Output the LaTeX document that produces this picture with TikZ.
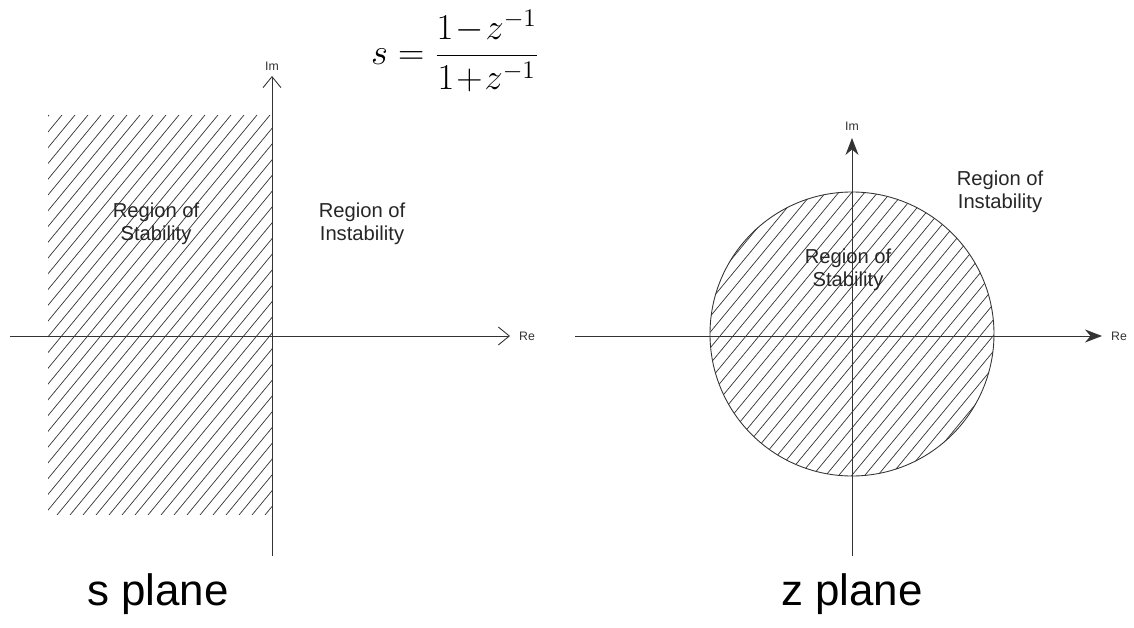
\documentclass[tikz,border=0pt]{standalone}
\usepackage{fontspec}
\setsansfont{Liberation Sans}
\usetikzlibrary{arrows.meta, positioning}
\tikzset{
  axis/.style={line width=0.5pt, black!80},
  openarr/.style={axis, -{Straight Barb[length=2.2mm, width=3.6mm]}},
  fillarr/.style={axis, -{Stealth[length=3.4mm, width=2.6mm]}},
  axlabel/.style={font=\sffamily\fontsize{7}{8}\selectfont, text=black!80, inner sep=1pt},
  region/.style={font=\sffamily\fontsize{11.5}{13}\selectfont, align=center, text=black!85, inner sep=0pt},
  planename/.style={font=\sffamily\fontsize{25}{28}\selectfont, inner sep=0pt},
  hatch/.style={line width=0.4pt, black!80},
}
\begin{document}
\begin{tikzpicture}[x=0.02cm, y=-0.02cm]
  \useasboundingbox (0,0) rectangle (1134,628);

  % Mapping formula
  \node[font=\fontsize{21.5}{25}\selectfont, inner sep=0pt] (map) at (455,51)
    {$\displaystyle s=\frac{1\!-\!z^{-1}}{1\!+\!z^{-1}}$};

  % ---- s plane ----
  \begin{scope}
    \clip (48,115) rectangle (272,515);
    \foreach \i in {-450,-437,...,300}
      \draw[hatch] (\i,515) -- ++(330,-400);
  \end{scope}
  \coordinate (sre0) at (10,336);
  \coordinate (sre1) at (510,336);
  \coordinate (sim0) at (272,556);
  \coordinate (sim1) at (272,76);
  \draw[openarr] (sre0) -- (sre1);
  \draw[openarr] (sim0) -- (sim1);
  \node[axlabel, right=4pt of sre1] (sre) {Re};
  \node[axlabel, above=2pt of sim1] (sim) {Im};
  \node[region] (sstab) at (156,224) {Region of\\Stability};
  \node[region] (sinst) at (362,224) {Region of\\Instability};
  \node[planename] (splane) at (158,594) {s plane};

  % ---- z plane ----
  \coordinate (zc) at (852,334);
  \begin{scope}
    \clip (zc) circle (142);
    \foreach \i in {-400,-387,...,1300}
      \draw[hatch] (\i,480) -- ++(248,-300);
  \end{scope}
  \draw[axis] (zc) circle (142);
  \coordinate (zre0) at (575,336);
  \coordinate (zre1) at (1102,336);
  \coordinate (zim0) at (852,556);
  \coordinate (zim1) at (852,138);
  \draw[fillarr] (zre0) -- (zre1);
  \draw[fillarr] (zim0) -- (zim1);
  \node[axlabel, right=4pt of zre1] (zre) {Re};
  \node[axlabel, above=3pt of zim1] (zim) {Im};
  \node[region] (zstab) at (848,270) {Region of\\Stability};
  \node[region] (zinst) at (1000,192) {Region of\\Instability};
  \node[planename] (zplane) at (852,594) {z plane};
\end{tikzpicture}
\end{document}
